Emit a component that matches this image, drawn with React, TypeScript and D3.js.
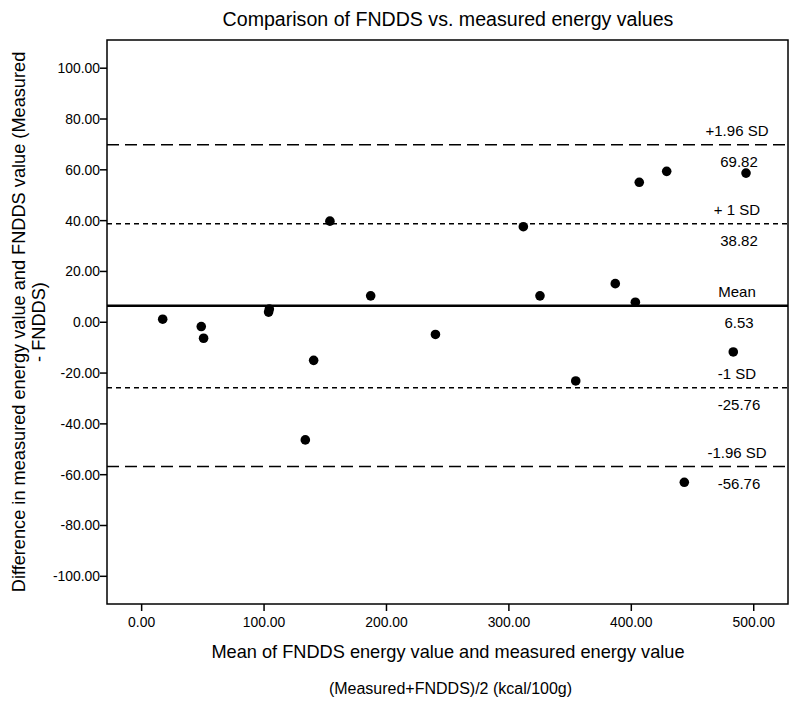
import React from "react";
import * as d3 from "d3";

const meanX = [17.2, 48.7, 50.6, 104.3, 103.7, 140.5, 133.7, 153.8, 187.1, 240.0, 311.8, 325.4, 386.9, 403.3, 483.3, 354.6, 406.5, 428.9, 493.7, 443.3];
const diffY = [1.2, -1.7, -6.3, 5.2, 4.0, -15.0, -46.3, 39.8, 10.4, -4.8, 37.6, 10.4, 15.2, 7.9, -11.7, -23.1, 55.1, 59.4, 58.7, -63.0];

const xTicks = [0, 100, 200, 300, 400, 500];
const yTicks = [100, 80, 60, 40, 20, 0, -20, -40, -60, -80, -100];

const refValues = [69.82, 38.82, 6.53, -25.76, -56.76];
const refNames = ["+1.96 SD", "+ 1 SD", "Mean", "-1 SD", "-1.96 SD"];
const refValueLabels = ["69.82", "38.82", "6.53", "-25.76", "-56.76"];
const refKinds = ["long", "short", "solid", "short", "long"];

const W = 800, H = 709;
const left = 107, right = 788, top = 40, bottom = 604;

export default function App() {
  const x = d3.scaleLinear().domain([-28.3, 528]).range([left, right]);
  const y = d3.scaleLinear().domain([-110.9, 111.1]).range([bottom, top]);
  const font = "'Liberation Sans', Arial, sans-serif";
  const dash = (k: string) => (k === "long" ? "12,6" : k === "short" ? "5,4" : undefined);
  return (
    <svg width={W} height={H} style={{ position: "absolute", left: 0, top: 0, background: "#fff" }} fontFamily={font}>
      <rect x={0} y={0} width={W} height={H} fill="#fff" />
      <text x={448} y={26} textAnchor="middle" fontSize={19.6}>Comparison of FNDDS vs. measured energy values</text>
      {refValues.map((v, i) => (
        <line key={"r" + i} x1={left} x2={right} y1={y(v)} y2={y(v)} stroke="#000"
          strokeWidth={refKinds[i] === "solid" ? 2.5 : 1.5} strokeDasharray={dash(refKinds[i])} />
      ))}
      {refValues.map((v, i) => (
        <g key={"t" + i} fontSize={15} textAnchor="middle">
          <text x={737} y={y(v) - 8.5}>{refNames[i]}</text>
          <text x={739} y={y(v) + 22.5}>{refValueLabels[i]}</text>
        </g>
      ))}
      {meanX.map((d, i) => (
        <circle key={"p" + i} cx={x(d)} cy={y(diffY[i])} r={4.8} fill="#000" />
      ))}
      <rect x={left} y={top} width={right - left} height={bottom - top} fill="none" stroke="#000" strokeWidth={1.5} />
      {yTicks.map((t) => (
        <g key={"y" + t}>
          <line x1={left - 7} x2={left} y1={y(t)} y2={y(t)} stroke="#000" strokeWidth={1.5} />
          <text x={left - 7} y={y(t) + 5} textAnchor="end" fontSize={13.9}>{d3.format(".2f")(t).replace("−", "-")}</text>
        </g>
      ))}
      {xTicks.map((t) => (
        <g key={"x" + t}>
          <line x1={x(t)} x2={x(t)} y1={bottom} y2={bottom + 7} stroke="#000" strokeWidth={1.5} />
          <text x={x(t)} y={bottom + 23} textAnchor="middle" fontSize={13.9}>{d3.format(".2f")(t)}</text>
        </g>
      ))}
      <text x={448} y={658} textAnchor="middle" fontSize={18.2}>Mean of FNDDS energy value and measured energy value</text>
      <text x={450.5} y={694} textAnchor="middle" fontSize={16}>(Measured+FNDDS)/2 (kcal/100g)</text>
      <g transform="translate(25,322) rotate(-90)">
        <text x={0} y={0} textAnchor="middle" fontSize={18.2}>Difference in measured energy value and FNDDS value (Measured</text>
        <text x={0} y={20} textAnchor="middle" fontSize={18.2}>- FNDDS)</text>
      </g>
    </svg>
  );
}
